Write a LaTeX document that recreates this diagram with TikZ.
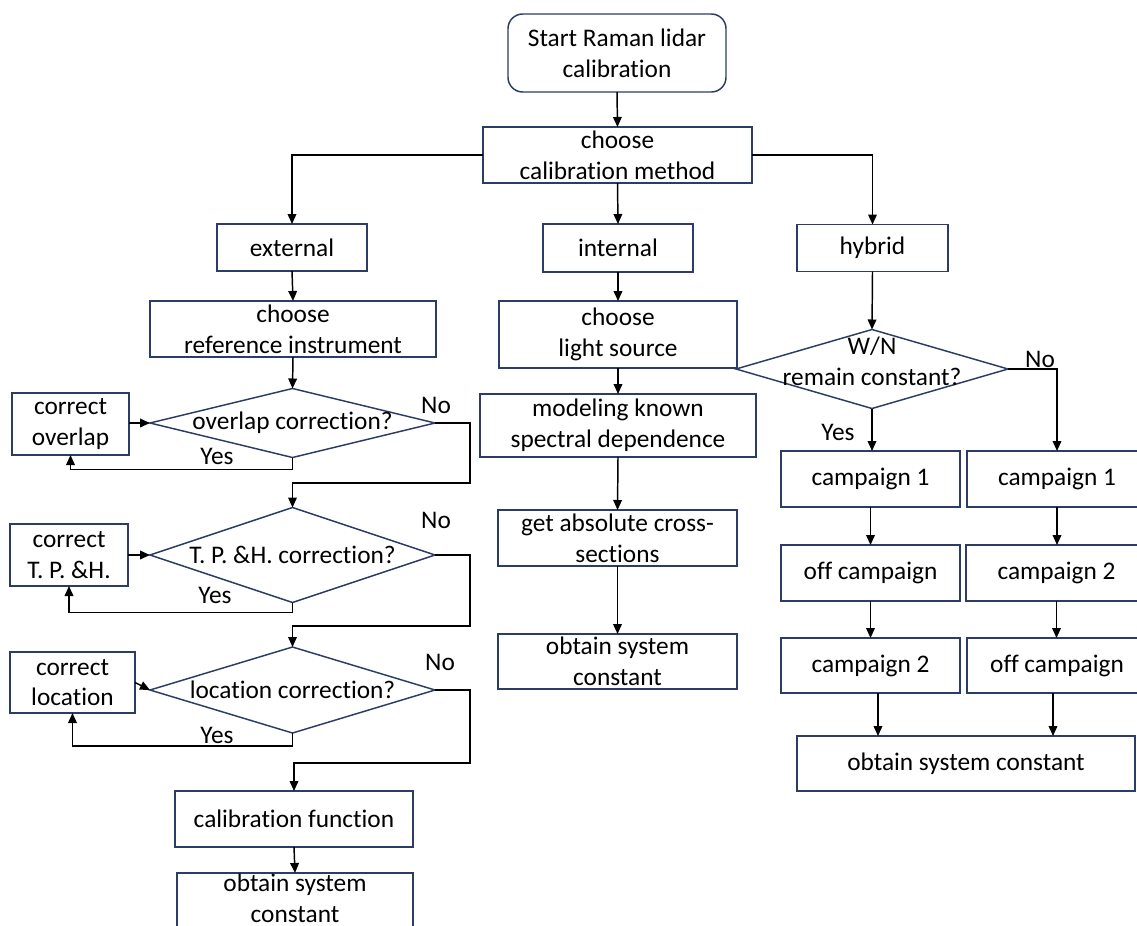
\documentclass[tikz,border=0pt]{standalone}
\usepackage{fontspec}
\setmainfont{Carlito}[Ligatures=NoCommon]
\usetikzlibrary{arrows.meta,shapes.geometric,calc}
\definecolor{bcol}{RGB}{44,60,100}
\begin{document}
\begin{tikzpicture}[x=0.75pt,y=-0.75pt,
  font=\fontsize{19}{23}\selectfont,
  box/.style={draw=bcol, line width=1.1pt, inner sep=0pt, outer sep=0pt, align=center},
  sz/.style 2 args={minimum width={#1*0.75pt}, minimum height={#2*0.75pt}},
  dia/.style={diamond, draw=bcol, line width=1.1pt, inner sep=0pt, outer sep=0pt},
  arr/.style={draw=black, line width=1.1pt, -{Triangle[length=7.5pt,width=6.5pt]}},
  lbl/.style={inner sep=0pt, align=center}
]
\useasboundingbox (0,0) rectangle (1137,925);
\fill[white] (0,0) rectangle (1137,925);
\clip (0,0) rectangle (1137,925);

% top
\node[box, sz={218}{78}, rounded corners=11pt] (start) at (617,53) {Start Raman lidar\\calibration};
\node[box, sz={269}{56}] (method) at (617.5,155) {choose\\calibration method};
\node[box, sz={150}{47}] (external) at (292,247.5) {external};
\node[box, sz={150}{48}] (internal) at (618,248) {internal};
\node[box, sz={151}{47}] (hybrid) at (872.5,248) {hybrid};

% left column
\node[box, sz={286}{56}] (refinst) at (293,329) {choose\\reference instrument};
\node[dia, sz={285}{69}] (d1) at (292.5,423) {};
\node[lbl] (d1t) at (292.5,423) {overlap correction?};
\node[box, sz={117}{62}] (corrov) at (70.5,424) {correct\\overlap};
\node[dia, sz={285}{95}] (d2) at (292.5,555) {};
\node[lbl] (d2t) at (292.5,555) {T. P. \&H. correction?};
\node[box, sz={118}{62}] (corrtph) at (69,555) {correct\\T. P. \&H.};
\node[dia, sz={285}{86}] (d3) at (292.5,690) {};
\node[lbl] (d3t) at (292.5,690) {location correction?};
\node[box, sz={125}{61}] (corrloc) at (72.5,682.5) {correct\\location};
\node[box, sz={238}{56}] (calfun) at (294,819) {calibration function};
\node[box, sz={236}{62}, label={[lbl, yshift=4.5pt]center:obtain system\\constant}] (obtainL) at (295,904) {};

% middle column
\node[box, sz={238}{67}] (light) at (618,334.5) {choose\\light source};
\node[box, sz={276}{63}] (model) at (618,425.5) {modeling known\\spectral dependence};
\node[box, sz={239}{56}] (getabs) at (617.5,538) {get absolute cross-\\sections};
\node[box, sz={239}{55}] (obtainM) at (617.5,661.5) {obtain system\\constant};

% right column
\node[dia, sz={272}{79}] (d4) at (872,369) {};
\node[lbl] (d4t) at (872,361) {W/N\\remain constant?};
\node[box, sz={179}{56}] (c1L) at (870.5,479) {campaign 1};
\node[box, sz={180}{56}] (c1R) at (1057,479) {campaign 1};
\node[box, sz={179}{56}] (offL) at (870.5,573) {off campaign};
\node[box, sz={181}{56}] (c2R) at (1056.5,573) {campaign 2};
\node[box, sz={179}{55}] (c2L) at (870.5,665.5) {campaign 2};
\node[box, sz={180}{55}] (offR) at (1057,665.5) {off campaign};
\node[box, sz={338}{55}] (obtainR) at (966,763.5) {obtain system constant};

% bend coordinates
\coordinate (n1) at (470,483);
\coordinate (n2) at (470,626);
\coordinate (n3) at (470,763);

% connectors top
\draw[arr] (start.south) -- (method.north);
\draw[arr] (method.west) -| (external.north);
\draw[arr] (method.south) -- (internal.north);
\draw[arr] (method.east) -| (hybrid.north);

% left connectors
\draw[arr] (external.south) -- (refinst.north);
\draw[arr] (refinst.south) -- (d1.north);
\draw[arr] (corrov.east |- d1.west) -- (d1.west);
\draw[arr] (d1.south) -- ++(0,12) -| (corrov.south);
\draw[arr] (d1.east) -| (n1) -| (d2.north);
\draw[arr] (corrtph.east |- d2.west) -- (d2.west);
\draw[arr] (d2.south) -- ++(0,10) -| (corrtph.south);
\draw[arr] (d2.east) -| (n2) -| (d3.north);
\draw[arr] (corrloc.east) -- (d3.west);
\draw[arr] (d3.south) -- ++(0,13) -| (corrloc.south);
\draw[arr] (d3.east) -| (n3) -| (calfun.north);
\draw[arr] (calfun.south) -- (obtainL.north);

\node[lbl] (y1) at (217,456) {Yes};
\node[lbl] (no1) at (436,405) {No};
\node[lbl] (y2) at (215,595) {Yes};
\node[lbl] (no2) at (436,520) {No};
\node[lbl] (y3) at (217,735) {Yes};
\node[lbl] (no3) at (440,662) {No};

% middle connectors
\draw[arr] (internal.south) -- (light.north);
\draw[arr] (light.south) -- (model.north);
\draw[arr] (model.south) -- (getabs.north);
\draw[arr] (getabs.south) -- (obtainM.north);

% right connectors
\draw[arr] (hybrid.south) -- (d4.north);
\draw[arr] (d4.south) -- (d4.south |- c1L.north);
\draw[arr] (d4.east) -| (c1R.north);
\draw[arr] (c1L.south) -- (offL.north);
\draw[arr] (offL.south) -- (c2L.north);
\draw[arr] (c1R.south) -- (c1R.south |- c2R.north);
\draw[arr] (c2R.south) -- (c2R.south |- offR.north);
\draw[arr] ([xshift=5.6pt]c2L.south) -- ([xshift=5.6pt]c2L.south |- obtainR.north);
\draw[arr] ([xshift=-3pt]offR.south) -- ([xshift=-3pt]offR.south |- obtainR.north);

\node[lbl] (y4) at (838,432) {Yes};
\node[lbl] (no4) at (1040,359) {No};
\end{tikzpicture}
\end{document}
